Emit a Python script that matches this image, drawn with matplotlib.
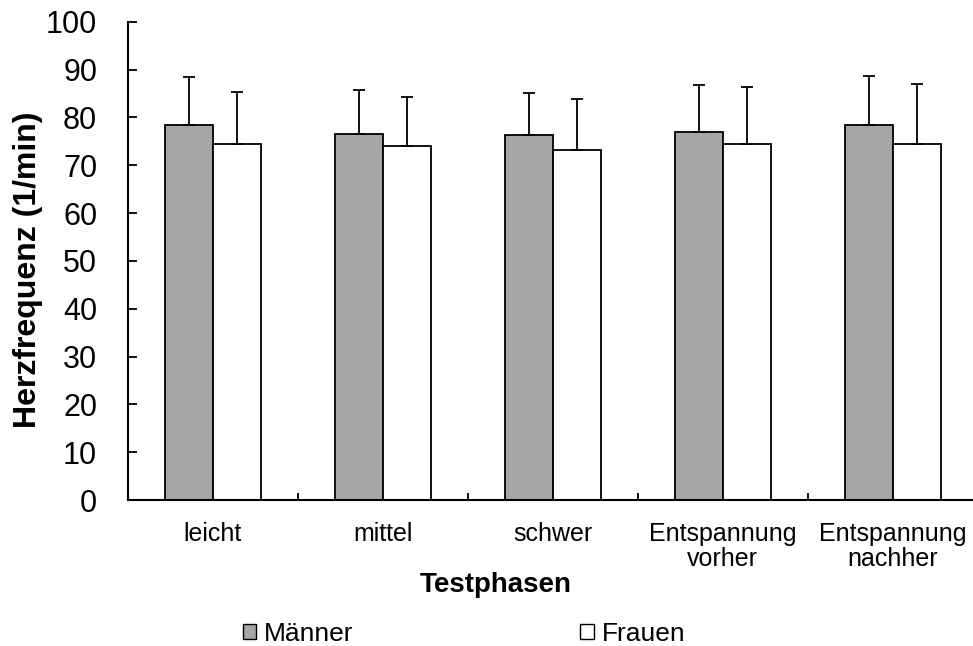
import matplotlib
matplotlib.use("Agg")
import matplotlib.pyplot as plt
from matplotlib.patches import Patch
import numpy as np

plt.rcParams['font.family'] = ['Liberation Sans', 'DejaVu Sans']

phasen = ['leicht', 'mittel', 'schwer', 'Entspannung\nvorher', 'Entspannung\nnachher']
maenner = [78.4, 76.6, 76.3, 77.0, 78.4]
maenner_sd = [10.1, 9.1, 8.8, 9.7, 10.2]
frauen = [74.5, 74.1, 73.2, 74.4, 74.4]
frauen_sd = [10.9, 10.1, 10.6, 11.9, 12.6]

fig = plt.figure(figsize=(9.73, 6.46), dpi=100)
# Achse läuft bis über den rechten Rand hinaus
ax = fig.add_axes([0.1313, 0.226, 0.8736, 0.7404])

x = np.arange(len(phasen))
w = 0.282
err_kw = dict(ecolor='black', elinewidth=1.3, capsize=4, capthick=1.3)

ax.bar(x - w / 2, maenner, w, color='#a6a6a6', edgecolor='black', linewidth=1.3,
       yerr=[np.zeros(len(x)), maenner_sd], error_kw=err_kw, label='Männer')
ax.bar(x + w / 2, frauen, w, color='white', edgecolor='black', linewidth=1.3,
       yerr=[np.zeros(len(x)), frauen_sd], error_kw=err_kw, label='Frauen')

ax.set_xlim(-0.5, len(x) - 0.5)
ax.set_ylim(0, 100)
ax.set_yticks(range(0, 101, 10))

ax.set_xticks(x)
ax.set_xticklabels(phasen, fontsize=18, linespacing=1.1)
ax.set_xticks(x[:-1] + 0.5, minor=True)
ax.tick_params(axis='x', which='major', length=0, pad=15.5)
ax.tick_params(axis='x', which='minor', direction='in', length=5, width=1.3)
ax.tick_params(axis='y', direction='in', length=6.5, width=1.3, labelsize=22, pad=22)

for s in ['top', 'right']:
    ax.spines[s].set_visible(False)
for s in ['left', 'bottom']:
    ax.spines[s].set_linewidth(1.5)

ax.set_xlabel('Testphasen', fontsize=20, fontweight='bold', va='center')
ax.xaxis.set_label_coords(0.433, -0.177)
ax.set_ylabel('Herzfrequenz (1/min)', fontsize=23, fontweight='bold', va='center')
ax.yaxis.set_label_coords(-0.1173, 0.481)

handles = [Patch(facecolor='#a6a6a6', edgecolor='black', linewidth=1.0),
           Patch(facecolor='white', edgecolor='black', linewidth=1.0)]
fig.legend(handles, ['Männer', 'Frauen'], loc='center', ncol=2,
           bbox_to_anchor=(464 / 973, 1 - 634 / 646), frameon=False, fontsize=19,
           handlelength=0.5, handleheight=0.5, handletextpad=0.3, columnspacing=8.6)

fig.savefig('out.png', dpi=100)
